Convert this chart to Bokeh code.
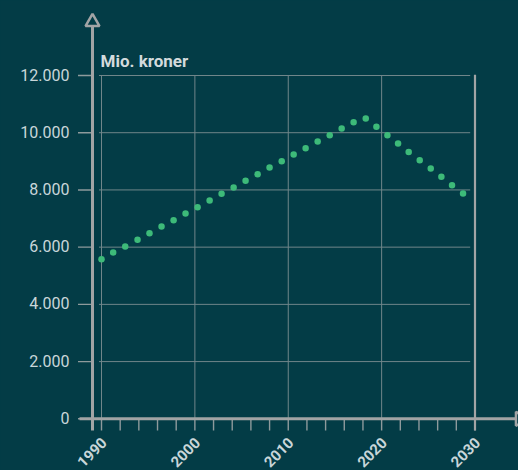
import math
from bokeh.plotting import figure
from bokeh.models import Range1d
from bokeh.core.properties import value
from bokeh.embed import file_html
from bokeh.resources import INLINE

# ---------------- data ----------------
years = [1990.0, 1991.25, 1992.54, 1993.86, 1995.14, 1996.43, 1997.72, 1999.0,
         2000.29, 2001.58, 2002.86, 2004.15, 2005.43, 2006.72, 2008.0, 2009.3,
         2010.58, 2011.86, 2013.15, 2014.44, 2015.72, 2017.0, 2018.3, 2019.44,
         2020.62, 2021.76, 2022.9, 2024.08, 2025.26, 2026.4, 2027.54, 2028.72]
values = [5580, 5815, 6025, 6255, 6485, 6720, 6940, 7175,
          7395, 7630, 7865, 8085, 8320, 8550, 8785, 9005,
          9240, 9460, 9690, 9915, 10145, 10365, 10495, 10205,
          9915, 9620, 9330, 9040, 8750, 8460, 8165, 7875]

y_ticks = [0, 2000, 4000, 6000, 8000, 10000, 12000]
y_tick_labels = ["0", "2.000", "4.000", "6.000", "8.000", "10.000", "12.000"]
x_major = [1990, 2000, 2010, 2020, 2030]
x_major_labels = ["1990", "2000", "2010", "2020", "2030"]
x_minor = [1990, 1992, 1994, 1996, 1998, 2000, 2002, 2004, 2006, 2008, 2010,
           2012, 2014, 2016, 2018, 2020, 2022, 2024, 2026, 2028, 2030]
unit_label = "Mio. kroner"

# ---------------- style ----------------
BG = "#033c46"
GRID = "#70868a"
TICK = "#8e9a9c"
AXIS = "#a2a4a5"
DOT = "#3dba79"
LABEL = "#c9d6d9"
TITLE = "#d3dbdd"
FONT = "Roboto"

W, H = 518, 470
# layout: pixels per unit (x: per year, y: per value unit)
PX_X = 9.3375
PX_Y = 0.0286083
X0_PAGE, Y0_PAGE = 101.0, 418.3   # page position of (1990, 0)


def dx(page_x):
    return 1990 + (page_x - X0_PAGE) / PX_X


def dy(page_y):
    return (Y0_PAGE - page_y) / PX_Y


p = figure(width=W, height=H, output_backend="svg", toolbar_location=None,
           x_axis_type=None, y_axis_type=None,
           x_range=Range1d(dx(0), dx(W)), y_range=Range1d(dy(H), dy(0)),
           min_border=0)
p.background_fill_color = BG
p.border_fill_color = BG
p.outline_line_color = None
p.xgrid.visible = False
p.ygrid.visible = False

yaxis_x = dx(92)
tick_bottom = dy(430)
grid_x0, grid_x1 = dx(98.5), dx(469.7)
top_val = y_ticks[-1]

# horizontal grid lines
hg = y_ticks[1:]
p.segment(x0=[grid_x0] * len(hg), x1=[grid_x1] * len(hg), y0=hg, y1=hg,
          line_color=GRID, line_width=1)
# vertical grid lines (not the last one)
vg = x_major[:-1]
p.segment(x0=vg, x1=vg, y0=[0] * len(vg), y1=[top_val] * len(vg),
          line_color=GRID, line_width=1)
# ticks below x axis
p.segment(x0=x_minor, x1=x_minor, y0=[0] * len(x_minor), y1=[tick_bottom] * len(x_minor),
          line_color=TICK, line_width=1.4)
# right border line at last major year
p.segment(x0=[x_major[-1]], x1=[x_major[-1]], y0=[tick_bottom], y1=[top_val + 25],
          line_color=AXIS, line_width=2.2)
# y ticks left of axis
p.segment(x0=[dx(77.5)] * len(y_ticks), x1=[yaxis_x] * len(y_ticks), y0=y_ticks, y1=y_ticks,
          line_color=TICK, line_width=1.4)
# x axis line
p.segment(x0=[dx(79)], x1=[dx(516)], y0=[0], y1=[0], line_color=AXIS, line_width=3)
# y axis line
p.segment(x0=[yaxis_x], x1=[yaxis_x], y0=[tick_bottom], y1=[dy(26)], line_color=AXIS, line_width=3)
# arrow heads
p.scatter(x=[yaxis_x], y=[dy(21.5)], marker="triangle", size=14,
          fill_color=BG, line_color=AXIS, line_width=2.5)
p.scatter(x=[dx(519.5)], y=[0], marker="triangle", size=14, angle=-math.pi / 2,
          fill_color=BG, line_color=AXIS, line_width=2.5)

# data points
p.scatter(x=years, y=values, marker="circle", size=6.5, fill_color=DOT, line_color=None)

# y tick labels (right edge 23 px left of the axis, baseline 1 px above the tick)
p.text(x=[dx(69)] * len(y_ticks), y=[t + 1 / PX_Y for t in y_ticks], text=y_tick_labels,
       text_align="right", text_baseline="alphabetic",
       text_font=value(FONT), text_font_size="16px", text_color=LABEL)
# x tick labels (rotated, ending just below-right of each tick)
p.text(x=[t + 2.5 / PX_X for t in x_major], y=[dy(439.5)] * len(x_major), text=x_major_labels,
       angle=math.pi / 4, text_align="right", text_baseline="middle",
       text_font=value(FONT), text_font_size="15px", text_font_style="bold",
       text_color=LABEL)
# unit label
p.text(x=[dx(100)], y=[dy(60)], text=[unit_label],
       text_align="left", text_baseline="alphabetic",
       text_font=value(FONT), text_font_size="17px", text_font_style="bold",
       text_color=TITLE)

html = file_html(p, INLINE)
html = html.replace("</head>", "<style>html,body{background-color:%s;}</style></head>" % BG, 1)
open("out.html", "w").write(html)
